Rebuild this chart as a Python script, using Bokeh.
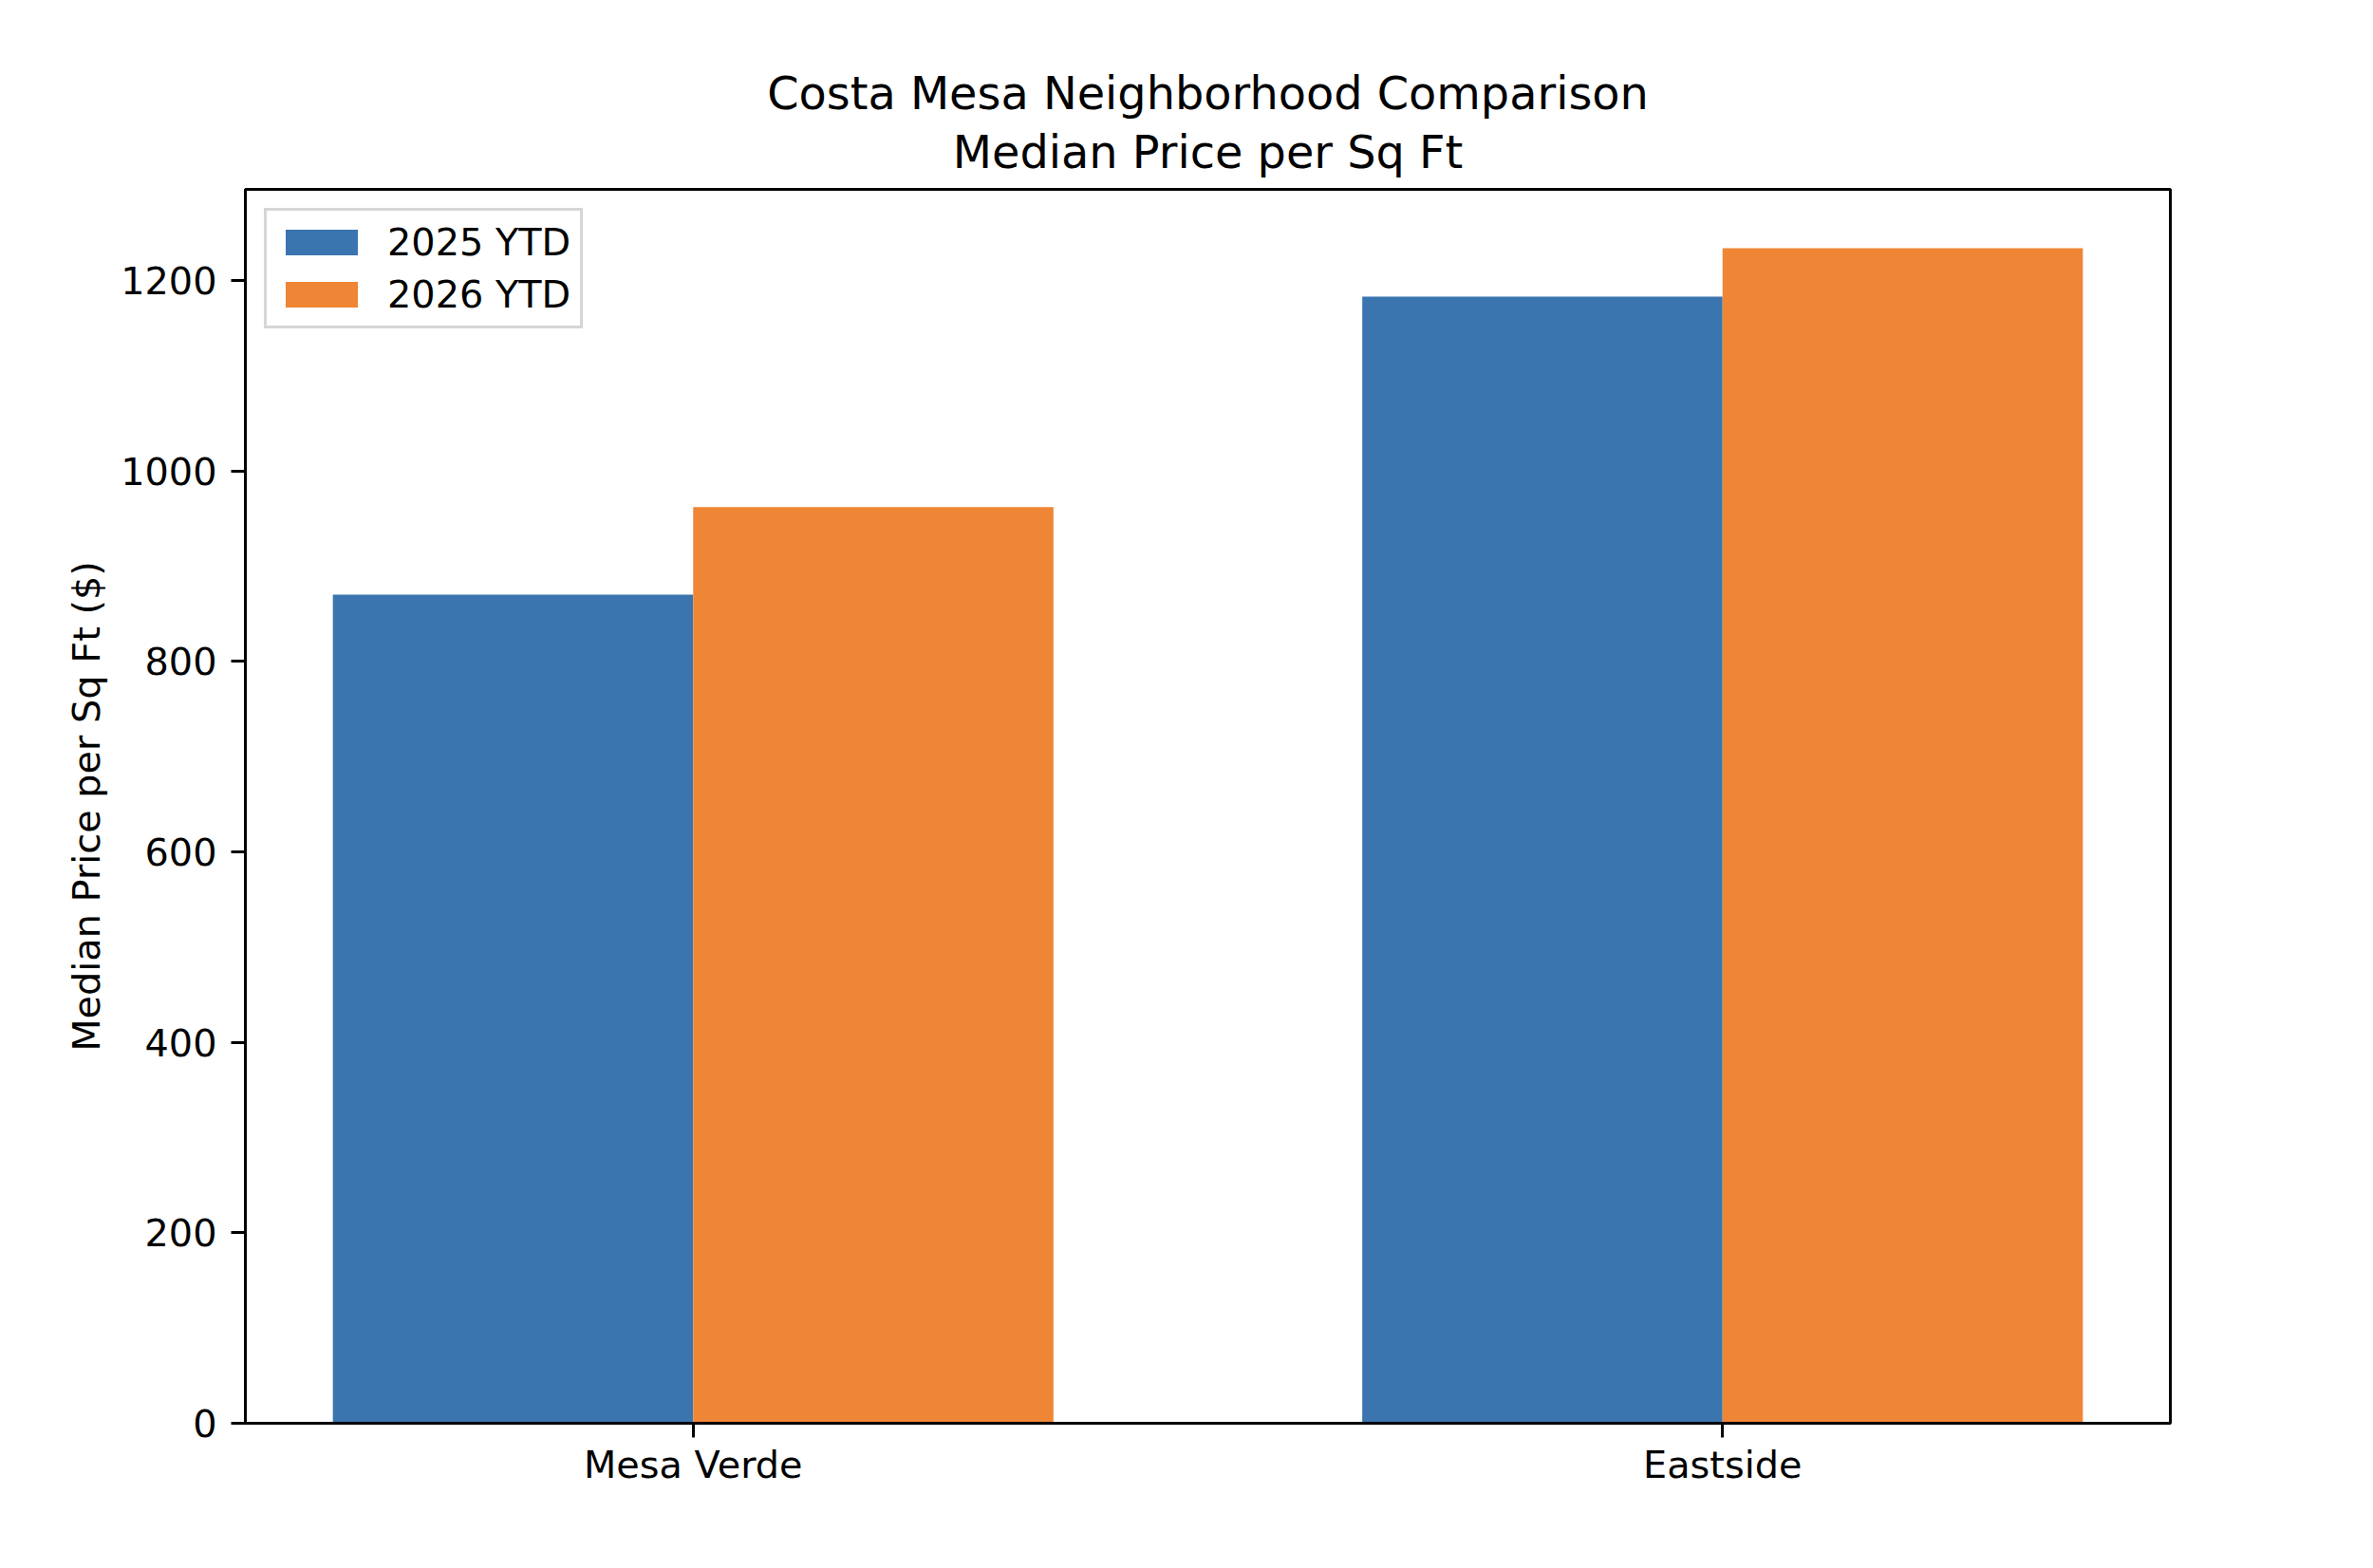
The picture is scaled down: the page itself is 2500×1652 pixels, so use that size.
import numpy as np
from bokeh.plotting import figure
from bokeh.models import ColumnDataSource, FixedTicker, Range1d, Legend, LegendItem, Title
from bokeh.embed import file_html
from bokeh.resources import INLINE

# ---- data ----
categories = ["Mesa Verde", "Eastside"]
series_names = ["2025 YTD", "2026 YTD"]
values_2025 = [870, 1183]
values_2026 = [962, 1234]
y_ticks = [0, 200, 400, 600, 800, 1000, 1200]
title_lines = ["Costa Mesa Neighborhood Comparison", "Median Price per Sq Ft"]
y_label = "Median Price per Sq Ft ($)"

colors = ["#3A75AF", "#EF8636"]
bar_w = 0.35
FONT = "DejaVu Sans"
TICK_FS = "39.8px"
TITLE_FS = "47.8px"

n = len(categories)
idx = np.arange(n)
lo, hi = -bar_w, (n - 1) + bar_w
pad = 0.05 * (hi - lo)
ymax = max(max(values_2025), max(values_2026)) * 1.05

p = figure(
    output_backend="svg", toolbar_location=None,
    frame_width=2028, frame_height=1300,
    x_range=Range1d(lo - pad, hi + pad), y_range=Range1d(0, ymax),
    min_border_left=258, min_border_top=199, min_border_right=198, min_border_bottom=137,
    background_fill_color="white", border_fill_color="white",
)
# main title (outermost) and the second line, closest to the frame
p.title = Title(text=title_lines[0], align="center", text_font=FONT,
                text_font_size=TITLE_FS, text_font_style="normal", text_color="black",
                standoff=-15)
p.add_layout(Title(text=title_lines[1], align="center", text_font=FONT,
                   text_font_size=TITLE_FS, text_font_style="normal", text_color="black",
                   standoff=24), "above")

src1 = ColumnDataSource(dict(x=idx - bar_w / 2, top=values_2025))
src2 = ColumnDataSource(dict(x=idx + bar_w / 2, top=values_2026))
r1 = p.vbar(x="x", top="top", bottom=0, width=bar_w, source=src1, fill_color=colors[0], line_color=None)
r2 = p.vbar(x="x", top="top", bottom=0, width=bar_w, source=src2, fill_color=colors[1], line_color=None)

p.xgrid.visible = False
p.ygrid.visible = False
p.outline_line_color = "black"
p.outline_line_width = 3

for ax in (p.xaxis[0], p.yaxis[0]):
    ax.axis_line_width = 3
    ax.axis_line_color = "black"
    ax.major_tick_line_width = 3
    ax.major_tick_in = 0
    ax.major_tick_out = 15
    ax.minor_tick_line_color = None
    ax.major_label_text_font = FONT
    ax.major_label_text_font_size = TICK_FS
    ax.major_label_text_color = "black"
    ax.major_label_standoff = 15

p.xaxis.major_label_standoff = 5
p.xaxis.ticker = FixedTicker(ticks=list(idx))
p.xaxis.major_label_overrides = {int(i): c for i, c in zip(idx, categories)}
p.yaxis.ticker = FixedTicker(ticks=y_ticks)
p.yaxis.axis_label = y_label
p.yaxis.axis_label_text_font = FONT
p.yaxis.axis_label_text_font_size = TICK_FS
p.yaxis.axis_label_text_font_style = "normal"
p.yaxis.axis_label_text_color = "black"
p.yaxis.axis_label_standoff = 10

legend = Legend(
    items=[LegendItem(label=series_names[0], renderers=[r1]),
           LegendItem(label=series_names[1], renderers=[r2])],
    location="top_left", margin=20, padding=10, spacing=9,
    glyph_width=95, glyph_height=34, label_standoff=22,
    label_text_font=FONT, label_text_font_size=TICK_FS, label_text_color="black",
    border_line_color="#cccccc", border_line_width=3, border_line_alpha=0.8,
    background_fill_color="white", background_fill_alpha=0.8,
)
p.add_layout(legend)

open("out.html", "w").write(file_html(p, INLINE))
